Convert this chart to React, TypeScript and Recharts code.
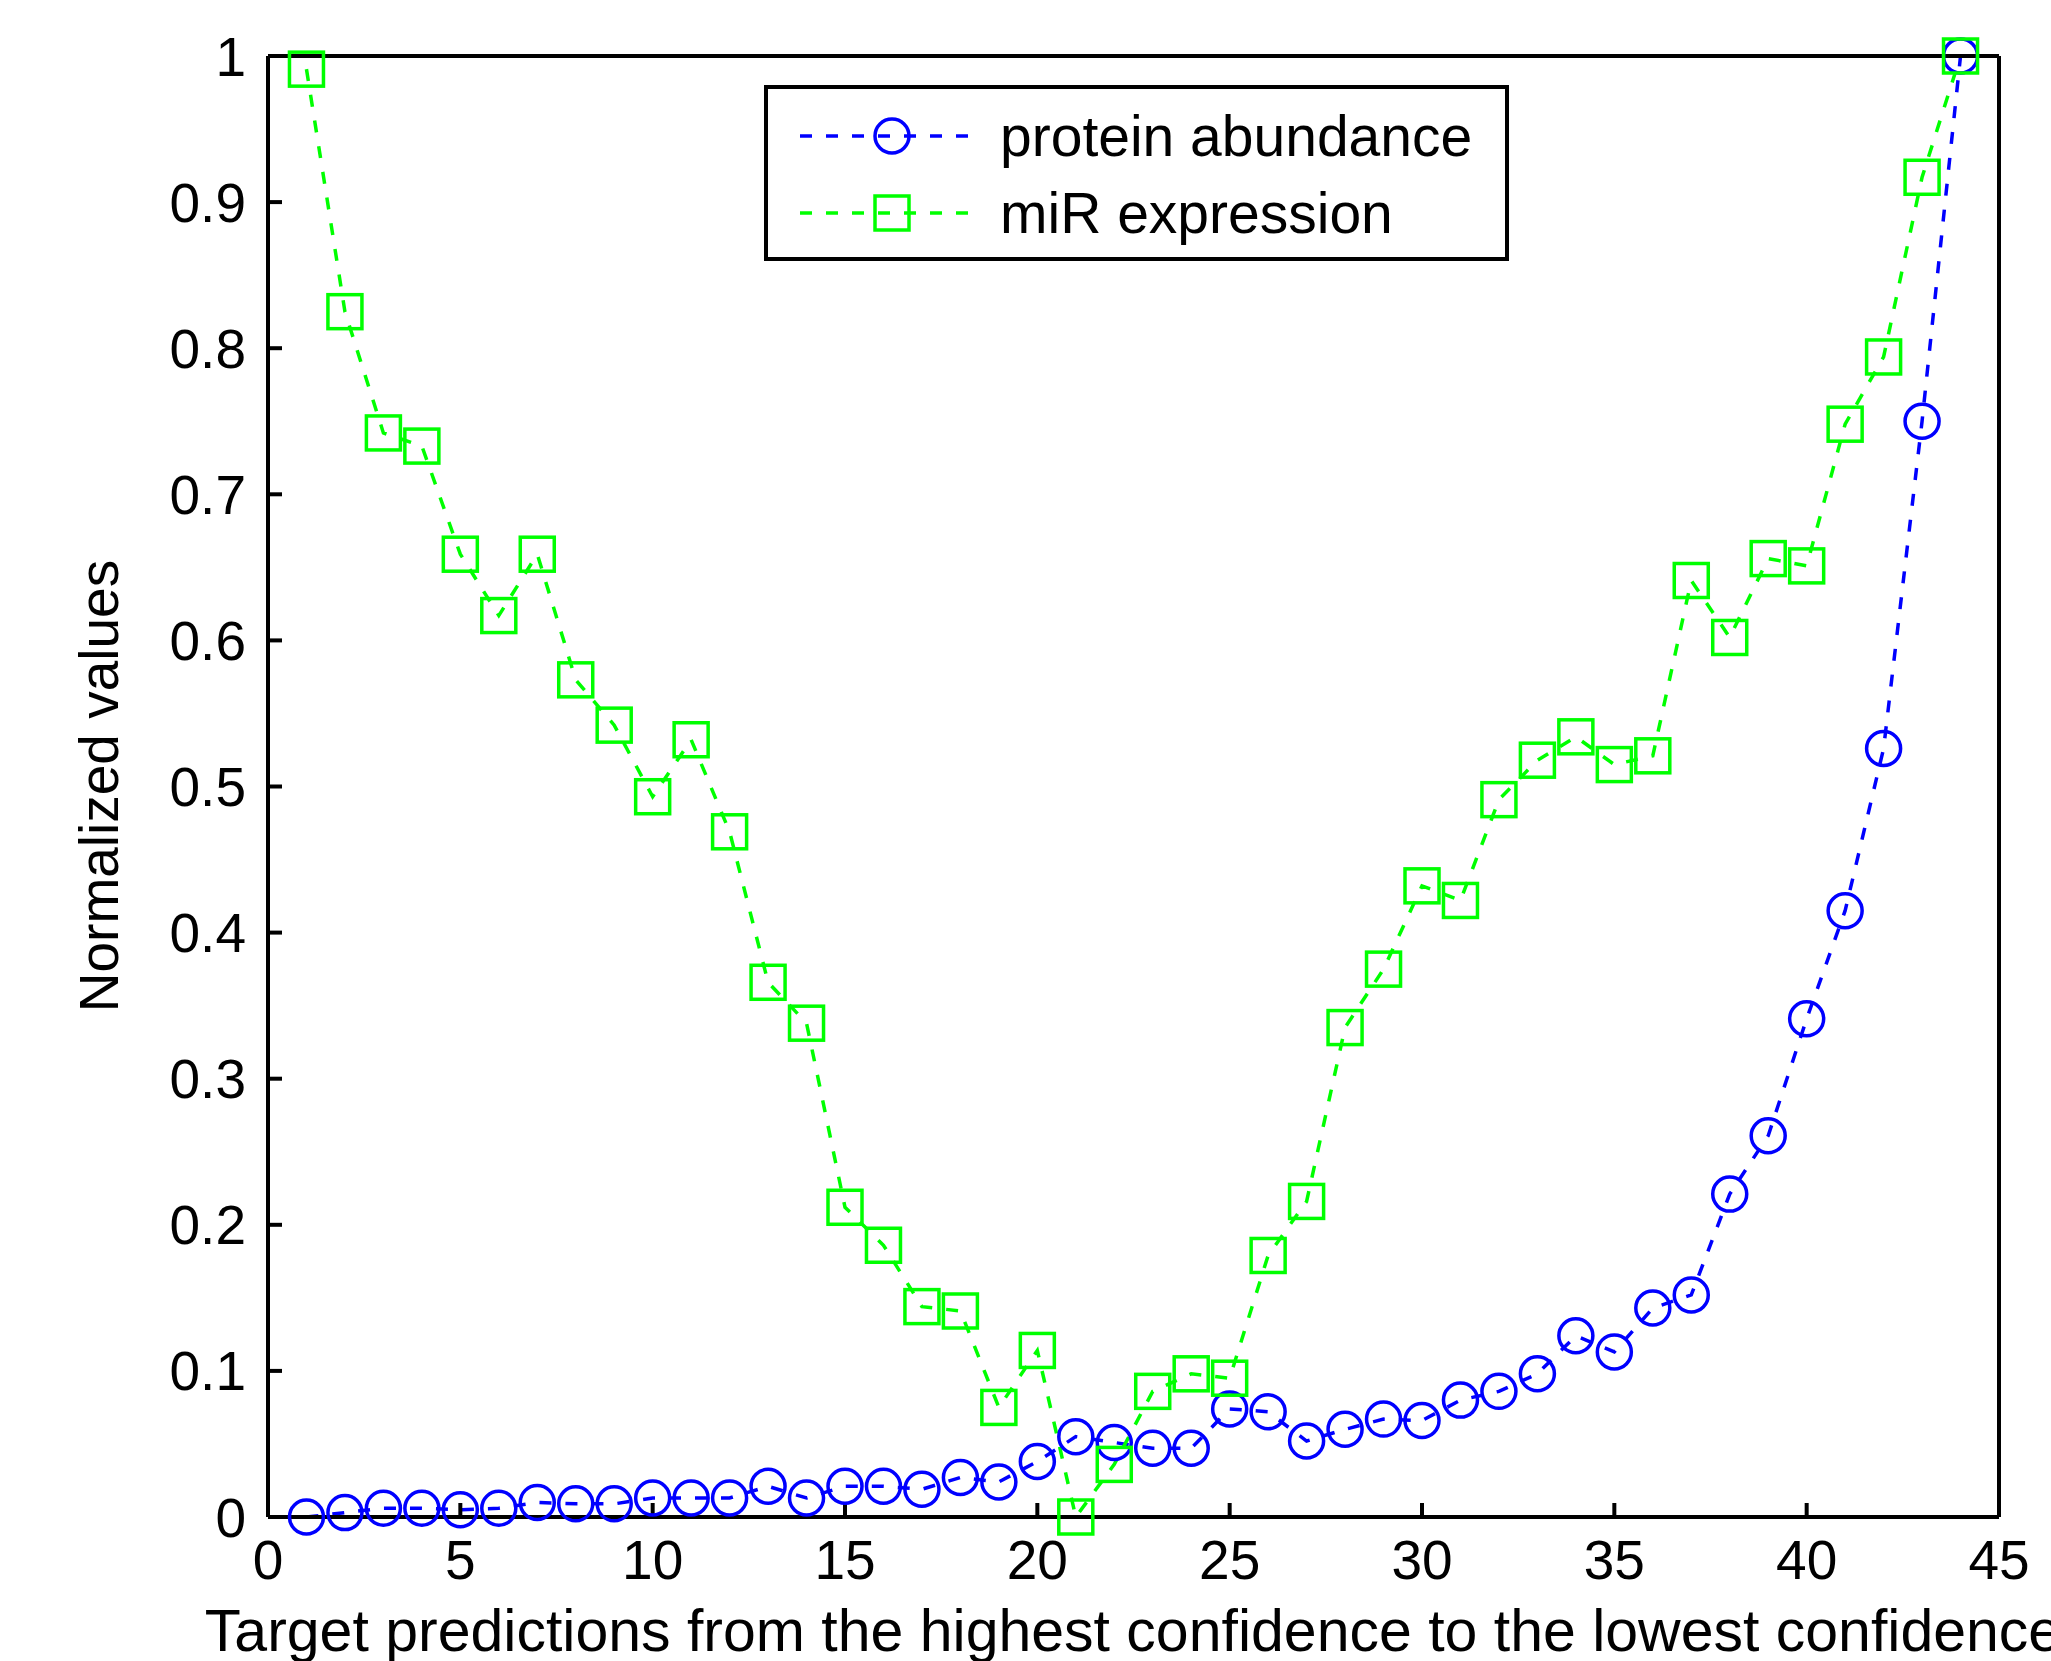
import { LineChart, Line, XAxis, YAxis } from "recharts";

// target prediction rank (x) and the two normalized series
const positions = [
  1, 2, 3, 4, 5, 6, 7, 8, 9, 10, 11, 12, 13, 14, 15, 16, 17, 18, 19, 20, 21, 22,
  23, 24, 25, 26, 27, 28, 29, 30, 31, 32, 33, 34, 35, 36, 37, 38, 39, 40, 41, 42, 43, 44,
];

const proteinAbundance = [
  0.0, 0.003, 0.006, 0.006, 0.005, 0.006, 0.01, 0.009, 0.009, 0.013, 0.013, 0.013,
  0.021, 0.013, 0.021, 0.021, 0.019, 0.027, 0.024, 0.038, 0.055, 0.051, 0.047, 0.047,
  0.074, 0.072, 0.052, 0.06, 0.067, 0.066, 0.08, 0.086, 0.098, 0.124, 0.113, 0.143,
  0.152, 0.221, 0.261, 0.341, 0.415, 0.526, 0.75, 1.0,
];

const mirExpression = [
  0.991, 0.825, 0.742, 0.733, 0.659, 0.617, 0.659, 0.573, 0.542, 0.493, 0.532, 0.469,
  0.366, 0.338, 0.212, 0.186, 0.144, 0.141, 0.075, 0.114, 0.0, 0.036, 0.086, 0.098,
  0.095, 0.179, 0.216, 0.335, 0.375, 0.432, 0.422, 0.491, 0.518, 0.534, 0.515, 0.521,
  0.641, 0.602, 0.656, 0.651, 0.748, 0.794, 0.917, 1.0,
];

const xTicks = [0, 5, 10, 15, 20, 25, 30, 35, 40, 45];
const yTicks = [0, 0.1, 0.2, 0.3, 0.4, 0.5, 0.6, 0.7, 0.8, 0.9, 1];

const seriesNames = ["protein abundance", "miR expression"];
const xTitle = "Target predictions from the highest confidence to the lowest confidence";
const yTitle = "Normalized values";

const BLUE = "#0000ff";
const GREEN = "#00ff00";
const FONT = "'Liberation Sans', Arial, Helvetica, sans-serif";

const data = positions.map((x, i) => ({
  x,
  protein: proteinAbundance[i],
  mir: mirExpression[i],
}));

const tickStyle = { fontSize: 55, fill: "#000", fontFamily: FONT };
const axisStroke = { stroke: "#000", strokeWidth: 4 };

// eslint-disable-next-line @typescript-eslint/no-explicit-any
function CircleDot(props: any) {
  const { cx, cy, key } = props;
  if (cx == null || cy == null) return null;
  return (
    <circle
      key={key}
      cx={cx}
      cy={cy}
      r={17}
      fill="none"
      stroke={BLUE}
      strokeWidth={3.5}
      strokeDasharray="none"
    />
  );
}

// eslint-disable-next-line @typescript-eslint/no-explicit-any
function SquareDot(props: any) {
  const { cx, cy, key } = props;
  if (cx == null || cy == null) return null;
  return (
    <rect
      key={key}
      x={cx - 17}
      y={cy - 17}
      width={34}
      height={34}
      fill="none"
      stroke={GREEN}
      strokeWidth={3.5}
      strokeDasharray="none"
    />
  );
}

function LegendBox() {
  return (
    <svg
      width={745}
      height={176}
      style={{ position: "absolute", left: 764, top: 85 }}
    >
      <rect x={2} y={2} width={741} height={172} fill="#fff" stroke="#000" strokeWidth={4} />
      {/* row 1 */}
      <line x1={36} y1={51} x2={214} y2={51} stroke={BLUE} strokeWidth={3.5} strokeDasharray="12 14" />
      <circle cx={128} cy={51} r={17} fill="none" stroke={BLUE} strokeWidth={3.5} />
      <text x={236} y={71} fontSize={57} fontFamily={FONT} fill="#000">
        {seriesNames[0]}
      </text>
      {/* row 2 */}
      <line x1={36} y1={128} x2={214} y2={128} stroke={GREEN} strokeWidth={3.5} strokeDasharray="12 14" />
      <rect x={111} y={111} width={34} height={34} fill="none" stroke={GREEN} strokeWidth={3.5} />
      <text x={236} y={148} fontSize={57} fontFamily={FONT} fill="#000">
        {seriesNames[1]}
      </text>
    </svg>
  );
}

export default function App() {
  return (
    <div
      style={{
        position: "absolute",
        left: 0,
        top: 0,
        width: 2051,
        height: 1661,
        overflow: "hidden",
        background: "#fff",
      }}
    >
      <LineChart
        width={2051}
        height={1661}
        data={data}
        margin={{ top: 0, right: 0, left: 0, bottom: 0 }}
      >
        <XAxis
          dataKey="x"
          type="number"
          domain={[0, 45]}
          ticks={xTicks}
          height={144}
          tick={tickStyle}
          tickSize={-14}
          tickMargin={37}
          axisLine={axisStroke}
          tickLine={axisStroke}
          label={() => (
            <text
              x={1133}
              y={1651}
              textAnchor="middle"
              fontSize={59}
              fontFamily={FONT}
              fill="#000"
            >
              {xTitle}
            </text>
          )}
        />
        <XAxis
          xAxisId="top"
          orientation="top"
          dataKey="x"
          type="number"
          domain={[0, 45]}
          ticks={xTicks}
          height={56}
          tick={false}
          tickSize={-14}
          axisLine={axisStroke}
          tickLine={axisStroke}
        />
        <YAxis
          type="number"
          domain={[0, 1]}
          ticks={yTicks}
          width={268}
          tick={tickStyle}
          tickSize={-14}
          tickMargin={36}
          axisLine={axisStroke}
          tickLine={axisStroke}
          label={() => (
            <text
              x={118}
              y={786}
              transform="rotate(-90 118 786)"
              textAnchor="middle"
              fontSize={55}
              fontFamily={FONT}
              fill="#000"
            >
              {yTitle}
            </text>
          )}
        />
        <YAxis
          yAxisId="right"
          orientation="right"
          type="number"
          domain={[0, 1]}
          ticks={yTicks}
          width={52}
          tick={false}
          tickSize={-14}
          axisLine={axisStroke}
          tickLine={axisStroke}
        />

        {/* blue dashed line with open circles */}
        <Line
          type="linear"
          dataKey="protein"
          stroke={BLUE}
          strokeWidth={3.5}
          strokeDasharray="12 14"
          dot={CircleDot}
          activeDot={false}
          isAnimationActive={false}
        />

        {/* green dashed line with open squares */}
        <Line
          type="linear"
          dataKey="mir"
          stroke={GREEN}
          strokeWidth={3.5}
          strokeDasharray="12 14"
          dot={SquareDot}
          activeDot={false}
          isAnimationActive={false}
        />
      </LineChart>
      <LegendBox />
    </div>
  );
}
